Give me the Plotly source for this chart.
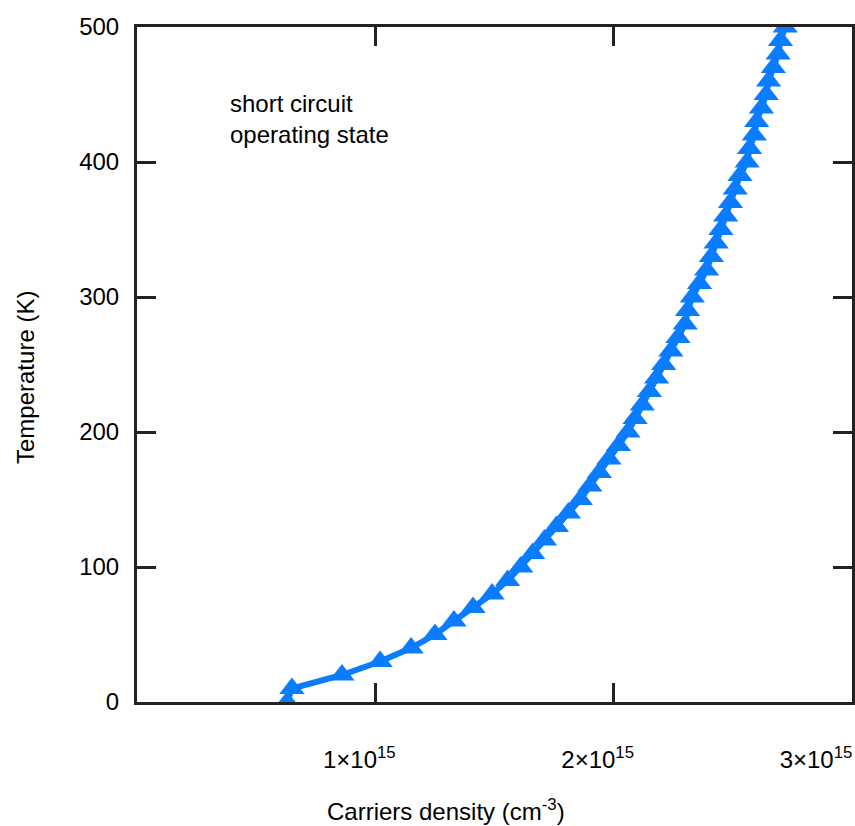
import plotly.graph_objects as go

temperature_K = [0, 10, 20, 30, 40, 50, 60, 70, 80, 90, 100, 110, 120, 130, 140, 150,
                 160, 170, 180, 190, 200, 210, 220, 230, 240, 250, 260, 270, 280, 290,
                 300, 310, 320, 330, 340, 350, 360, 370, 380, 390, 400, 410, 420, 430,
                 440, 450, 460, 470, 480, 490, 500]
carrier_density_e15 = [0.63, 0.65, 0.86, 1.02, 1.15, 1.25, 1.33, 1.41, 1.49, 1.555, 1.61,
                       1.66, 1.71, 1.76, 1.81, 1.86, 1.90, 1.94, 1.98, 2.02, 2.06, 2.09,
                       2.12, 2.15, 2.18, 2.21, 2.24, 2.27, 2.30, 2.31, 2.33, 2.36, 2.39,
                       2.41, 2.43, 2.45, 2.47, 2.49, 2.51, 2.53, 2.56, 2.57, 2.59, 2.60,
                       2.62, 2.64, 2.65, 2.67, 2.69, 2.70, 2.72]
carrier_density = [v * 1e15 for v in carrier_density_e15]

x_tick_vals = [1e15, 2e15, 3e15]
x_tick_text = ["1×10<sup>15</sup>", "2×10<sup>15</sup>",
               "3×10<sup>15</sup>" + "\u00a0" * 6]
y_tick_vals = [0, 100, 200, 300, 400, 500]

FONT = "Liberation Sans, Arial, sans-serif"
BLUE = "#0a7cff"
AXC = "#222222"

# body margin removed; plot area targets page px x 137..852, y 27..702
PX0, PX1, PY0, PY1 = 137, 852, 27, 702
W, H = 855, 826
def px(x):
    return (x - PX0) / (PX1 - PX0)
def py(y):
    return (PY1 - y) / (PY1 - PY0)

fig = go.Figure()
fig.add_trace(go.Scatter(
    x=carrier_density, y=temperature_K, mode="lines+markers",
    line=dict(color=BLUE, width=6),
    marker=dict(symbol="triangle-up", size=22, color=BLUE),
    showlegend=False,
))

fig.update_layout(
    width=W, height=H,
    margin=dict(l=PX0, r=W - PX1, t=PY0, b=H - PY1, autoexpand=False),
    paper_bgcolor="white", plot_bgcolor="white",
    font=dict(family=FONT, size=24, color="black"),
    xaxis=dict(
        range=[0, 3e15], tickvals=x_tick_vals, ticktext=x_tick_text,
        ticks="inside", ticklen=19, tickwidth=3, tickcolor=AXC,
        showline=True, linewidth=3, linecolor=AXC, mirror="ticks",
        showgrid=False, zeroline=False, ticklabelstandoff=34, ticklabelshift=-16,
        ticklabeloverflow="allow", automargin=False, tickfont=dict(size=24),
    ),
    yaxis=dict(
        range=[0, 500], tickvals=y_tick_vals,
        ticks="inside", ticklen=19, tickwidth=3, tickcolor=AXC,
        showline=True, linewidth=3, linecolor=AXC, mirror="ticks",
        showgrid=False, zeroline=False, ticklabelstandoff=10,
        automargin=False, tickfont=dict(size=24),
    ),
    annotations=[
        dict(text="short circuit<br>operating state", xref="paper", yref="paper",
             x=px(228), y=py(88), xanchor="left", yanchor="top",
             align="left", showarrow=False, font=dict(size=24)),
        dict(text="Carriers density (cm<sup>-3</sup>)", xref="paper", yref="paper",
             x=px(446), y=py(810), xanchor="center", yanchor="middle",
             showarrow=False, font=dict(size=24)),
        dict(text="Temperature (K)", xref="paper", yref="paper", textangle=-90,
             x=px(25), y=py(377), xanchor="center", yanchor="middle",
             showarrow=False, font=dict(size=24)),
    ],
)

fig.write_html("out.html", config={"displayModeBar": False},
               post_script="document.body.style.margin='0px';document.body.style.overflow='hidden';")
